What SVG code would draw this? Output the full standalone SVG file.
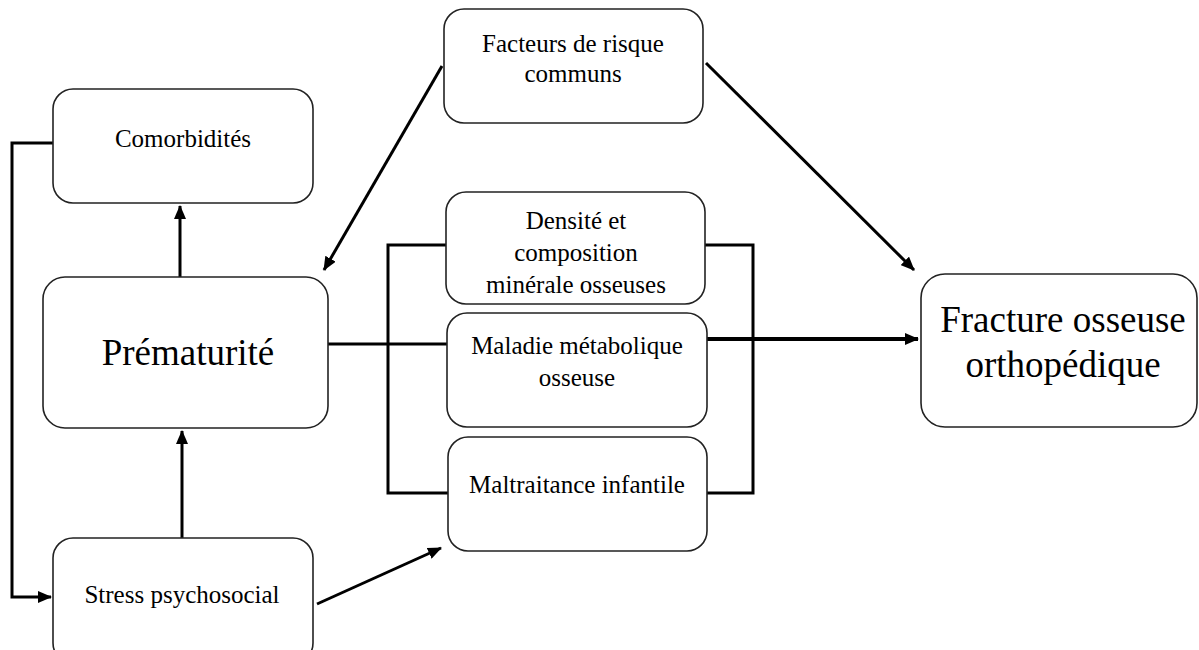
<svg xmlns="http://www.w3.org/2000/svg" width="1199" height="650" viewBox="0 0 1199 650">
<defs>
<style>
.box{fill:#fff;stroke:#222;stroke-width:1.6}
.t{font-family:"Liberation Serif","Times New Roman",serif;font-size:25px;fill:#000;text-anchor:middle}
.tl{font-family:"Liberation Serif","Times New Roman",serif;font-size:37px;fill:#000;text-anchor:middle}
.c{fill:none;stroke:#000;stroke-width:3}
.ca{fill:none;stroke:#000;stroke-width:3;marker-end:url(#ah)}
.cb{fill:none;stroke:#000;stroke-width:4;marker-end:url(#ah)}
</style>
<marker id="ah" markerUnits="userSpaceOnUse" markerWidth="14" markerHeight="12" refX="13" refY="6" orient="auto">
<path d="M0,0 L14,6 L0,12 z" fill="#000"/>
</marker>
</defs>
<rect width="1199" height="650" fill="#fff"/>
<g id="connectors">
<path class="ca" d="M53,143 H12 V597 H51"/>
<path class="ca" d="M180,277 V206"/>
<path class="ca" d="M182,538 V431"/>
<path class="ca" d="M317,604 L441,548"/>
<path class="ca" d="M442,66 L324,270"/>
<path class="ca" d="M706,63 L914,270"/>
<path class="c" d="M328,344 H447"/>
<path class="c" d="M446,245 H388 V493 H448"/>
<path class="c" d="M705,245 H753 V493 H707"/>
<path class="cb" d="M707,339 H918"/>
</g>
<g id="comorbidites">
<rect class="box" x="53" y="89" width="260" height="114" rx="20"/>
<text class="t" x="183" y="147">Comorbidités</text>
</g>
<g id="facteurs">
<rect class="box" x="444" y="9" width="259" height="114" rx="20"/>
<text class="t" x="573" y="52">Facteurs de risque</text>
<text class="t" x="573" y="82">communs</text>
</g>
<g id="prematurite">
<rect class="box" x="43" y="277" width="285" height="151" rx="22"/>
<text class="tl" x="188" y="365">Prématurité</text>
</g>
<g id="densite">
<rect class="box" x="446" y="192" width="259" height="112" rx="20"/>
<text class="t" x="576" y="229">Densité et</text>
<text class="t" x="576" y="261">composition</text>
<text class="t" x="576" y="293">minérale osseuses</text>
</g>
<g id="maladie">
<rect class="box" x="447" y="313" width="260" height="114" rx="20"/>
<text class="t" x="577" y="354">Maladie métabolique</text>
<text class="t" x="577" y="386">osseuse</text>
</g>
<g id="maltraitance">
<rect class="box" x="448" y="437" width="259" height="114" rx="20"/>
<text class="t" x="577" y="493">Maltraitance infantile</text>
</g>
<g id="stress">
<rect class="box" x="53" y="538" width="260" height="125" rx="20"/>
<text class="t" x="182" y="603">Stress psychosocial</text>
</g>
<g id="fracture">
<rect class="box" x="921" y="274" width="276" height="153" rx="24"/>
<text class="tl" x="1063" y="332">Fracture osseuse</text>
<text class="tl" x="1063" y="377">orthopédique</text>
</g>
</svg>
